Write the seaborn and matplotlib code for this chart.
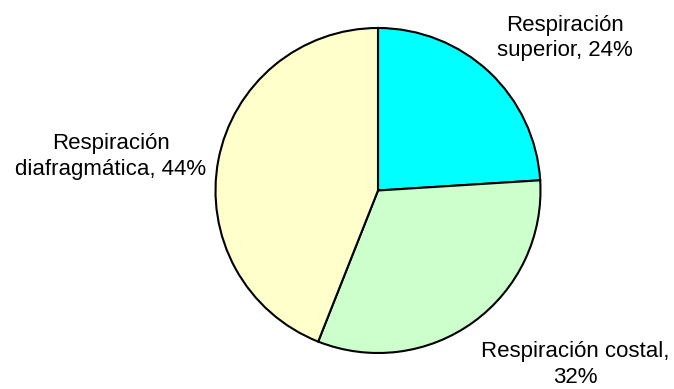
import matplotlib
matplotlib.use("Agg")
import matplotlib.pyplot as plt
import seaborn as sns

# Breathing types and their share (%)
categories = ["Respiración superior", "Respiración costal", "Respiración diafragmática"]
shares = [24, 32, 44]
label_texts = ["Respiración\nsuperior, 24%", "Respiración costal,\n32%", "Respiración\ndiafragmática, 44%"]
slice_colors = ["#00FFFF", "#CCFFCC", "#FFFFCC"]

sns.set_theme(style="white")
plt.rcParams["font.family"] = ["Liberation Sans", "DejaVu Sans"]

W, H = 674, 389
fig = plt.figure(figsize=(W / 100, H / 100), dpi=100)
fig.patch.set_facecolor("white")

cx, cy, r = 378, 190.5, 162.5
ax = fig.add_axes([(cx - r) / W, (H - cy - r) / H, 2 * r / W, 2 * r / H])

wedges, texts = ax.pie(
    shares,
    labels=label_texts,
    colors=slice_colors,
    startangle=90,
    counterclock=False,
    radius=1,
    wedgeprops=dict(edgecolor="black", linewidth=1.5),
    textprops=dict(fontsize=16, color="black", ha="center", va="center",
                   linespacing=1.28),
)

# label placement beside each slice
label_pos = [(1.153, 0.94), (1.215, -1.07), (-1.644, 0.21)]
for t, (x, y) in zip(texts, label_pos):
    t.set_position((x, y))
    t.set_ha("center")
    t.set_va("center")
    t.set_clip_on(False)

ax.set_xlim(-1, 1)
ax.set_ylim(-1, 1)
ax.set_aspect("auto")
ax.axis("off")

fig.savefig("out.png", dpi=100, facecolor="white")
